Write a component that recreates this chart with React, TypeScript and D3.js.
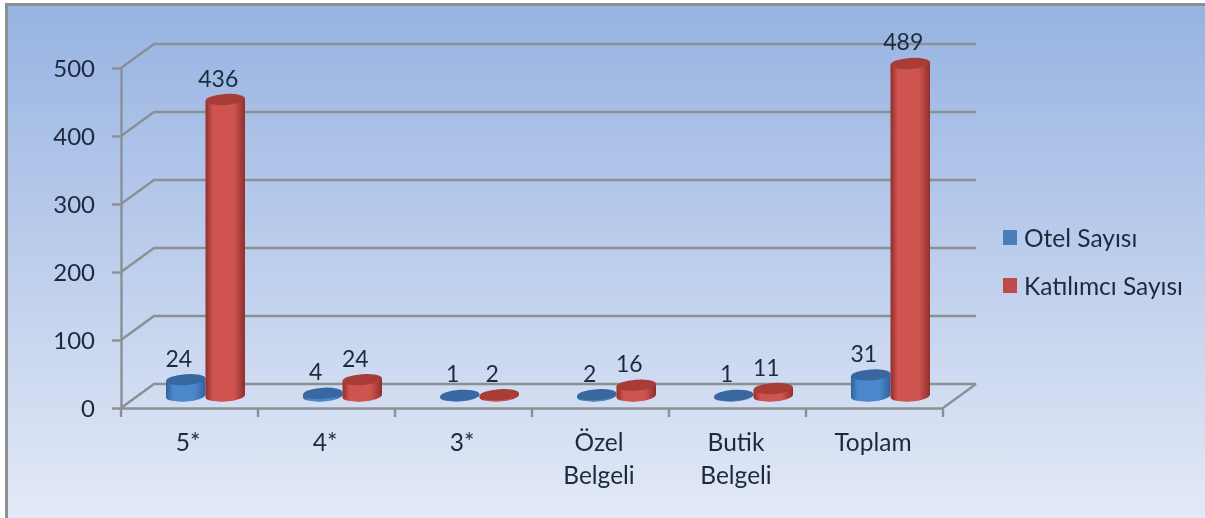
import React, { useEffect, useRef } from 'react';
import * as d3 from 'd3';

const categories = ['5*', '4*', '3*', 'Özel Belgeli', 'Butik Belgeli', 'Toplam'];
const seriesNames = ['Otel Sayısı', 'Katılımcı Sayısı'];
const otelSayisi = [24, 4, 1, 2, 1, 31];
const katilimciSayisi = [436, 24, 2, 16, 11, 489];
const yTicks = [0, 100, 200, 300, 400, 500];

const FONT = 'Lato, "Open Sans", sans-serif';
const TEXT = '#1d2a3f';
const GRID = '#8b9095';

const App = () => {
  const ref = useRef<SVGSVGElement>(null);

  useEffect(() => {
    const width = 1205;
    const height = 518;
    const depth = { x: 33, y: -24 };

    const svg = d3.select(ref.current);
    svg.selectAll('*').remove();

    const defs = svg.append('defs');
    const bg = defs
      .append('linearGradient')
      .attr('id', 'bg')
      .attr('x1', 0)
      .attr('y1', 0)
      .attr('x2', 0)
      .attr('y2', 1);
    bg.append('stop').attr('offset', '0%').attr('stop-color', '#97b3e2');
    bg.append('stop').attr('offset', '100%').attr('stop-color', '#e3e9f6');

    const cylColors = [
      { edge: '#2f639e', mid: '#4c87cb', top: '#38689f' },
      { edge: '#8f2f2c', mid: '#cf5350', top: '#a83d39' },
    ];
    cylColors.forEach((c, i) => {
      const g = defs
        .append('linearGradient')
        .attr('id', `cyl${i}`)
        .attr('x1', 0)
        .attr('y1', 0)
        .attr('x2', 1)
        .attr('y2', 0);
      g.append('stop').attr('offset', '0%').attr('stop-color', c.edge);
      g.append('stop').attr('offset', '18%').attr('stop-color', c.mid);
      g.append('stop').attr('offset', '72%').attr('stop-color', c.mid);
      g.append('stop').attr('offset', '100%').attr('stop-color', c.edge);
    });
    defs
      .append('filter')
      .attr('id', 'soft')
      .append('feGaussianBlur')
      .attr('stdDeviation', 0.45);

    // background and picture frame
    svg
      .append('rect')
      .attr('x', 6)
      .attr('y', 4)
      .attr('width', width - 6)
      .attr('height', height - 4)
      .attr('fill', 'url(#bg)');
    svg
      .append('path')
      .attr('d', `M6.5,${height}V4.5H${width}`)
      .attr('fill', 'none')
      .attr('stroke', '#8c8f94')
      .attr('stroke-width', 3);

    const x = d3
      .scaleBand<string>()
      .domain(categories)
      .range([121, 943]);
    const xSeries = d3
      .scaleBand<string>()
      .domain(seriesNames)
      .range([45, 124]);
    const y = d3.scaleLinear().domain([0, 500]).range([408, 68]);

    const root = svg.append('g').attr('filter', 'url(#soft)');

    // back wall gridlines with the slanted side wall part
    const line = d3.line();
    yTicks.forEach(t => {
      root
        .append('path')
        .attr(
          'd',
          line([
            [x.range()[0], y(t)],
            [x.range()[0] + depth.x, y(t) + depth.y],
            [x.range()[1] + depth.x, y(t) + depth.y],
          ]) as string
        )
        .attr('fill', 'none')
        .attr('stroke', GRID)
        .attr('stroke-width', 2.4);
    });
    // floor right edge
    root
      .append('path')
      .attr(
        'd',
        line([
          [x.range()[1], y(0)],
          [x.range()[1] + depth.x, y(0) + depth.y],
        ]) as string
      )
      .attr('stroke', GRID)
      .attr('stroke-width', 2.4);

    const yAxis = root
      .append('g')
      .attr('transform', `translate(${x.range()[0]}, 0)`)
      .call(
        d3
          .axisLeft(y)
          .tickValues(yTicks)
          .tickSize(9)
          .tickSizeOuter(0)
          .tickPadding(17)
      );
    yAxis.selectAll('path,line').attr('stroke', GRID).attr('stroke-width', 2.4);
    yAxis
      .selectAll('text')
      .attr('font-family', FONT)
      .attr('font-size', 24)
      .attr('dy', '0.37em')
      .attr('fill', TEXT);

    const xAxis = root
      .append('g')
      .attr('transform', `translate(0, ${y(0)})`)
      .call(d3.axisBottom(x).tickSize(0).tickSizeOuter(0).tickFormat(() => ''));
    xAxis.select('path').attr('stroke', GRID).attr('stroke-width', 2.4);

    // category boundary ticks
    d3.range(categories.length + 1).forEach(i => {
      const tx = x.range()[0] + i * x.step();
      root
        .append('line')
        .attr('x1', tx)
        .attr('x2', tx)
        .attr('y1', y(0))
        .attr('y2', y(0) + 9)
        .attr('stroke', GRID)
        .attr('stroke-width', 2.4);
    });

    // category labels, two words go on two lines
    categories.forEach(c => {
      const words = c.split(' ');
      const cx = (x(c) as number) + x.bandwidth() / 2 - 1.5;
      const label = root
        .append('text')
        .attr('x', cx)
        .attr('y', 451)
        .attr('text-anchor', 'middle')
        .attr('font-family', FONT)
        .attr('font-size', 24.5)
        .attr('fill', TEXT);
      words.forEach((w, i) => {
        label
          .append('tspan')
          .attr('x', cx)
          .attr('dy', i === 0 ? 0 : 33)
          .text(w);
      });
    });

    // cylinders, only the ellipses are a bit tilted
    const series = [otelSayisi, katilimciSayisi];
    const rx = xSeries.bandwidth() / 2;
    const ry = 5.5;
    const tilt = -4;
    const d = rx * Math.sin((-tilt * Math.PI) / 180);
    const baseY = (v: number) => y(v) - 12;

    series.forEach((values, s) => {
      const cx0 = (xSeries(seriesNames[s]) as number) + rx;
      categories.forEach((c, i) => {
        const cx = (x(c) as number) + cx0;
        const v = values[i];
        const yTop = baseY(v);
        const yBase = baseY(0);
        root
          .append('path')
          .attr(
            'd',
            `M${cx - rx},${yTop + d}V${yBase + d}A${rx},${ry} ${tilt} 0 0 ${cx + rx},${yBase - d}V${yTop - d}Z`
          )
          .attr('fill', `url(#cyl${s})`);
        root
          .append('ellipse')
          .attr('cx', cx)
          .attr('cy', yTop)
          .attr('rx', rx)
          .attr('ry', ry)
          .attr('transform', `rotate(${tilt} ${cx} ${yTop})`)
          .attr('fill', cylColors[s].top);

        root
          .append('text')
          .attr('x', cx - 7)
          .attr('y', yTop - 13)
          .attr('text-anchor', 'middle')
          .attr('font-family', FONT)
          .attr('font-size', 23)
          .attr('fill', TEXT)
          .text(v);
      });
    });

    // legend
    const legendColors = ['#4a7ebb', '#be4b48'];
    const legendY = d3
      .scalePoint<string>()
      .domain(seriesNames)
      .range([238, 286]);
    seriesNames.forEach((name, i) => {
      const ly = legendY(name) as number;
      root
        .append('rect')
        .attr('x', 1003)
        .attr('y', ly - 8)
        .attr('width', 14)
        .attr('height', 15)
        .attr('fill', legendColors[i]);
      root
        .append('text')
        .attr('x', 1024)
        .attr('y', ly + 8.5)
        .attr('font-family', FONT)
        .attr('font-size', 24.5)
        .attr('fill', TEXT)
        .text(name);
    });
  }, []);

  return (
    <svg
      ref={ref}
      width={1205}
      height={518}
      style={{ position: 'absolute', left: 0, top: 0 }}
    />
  );
};

export default App;
